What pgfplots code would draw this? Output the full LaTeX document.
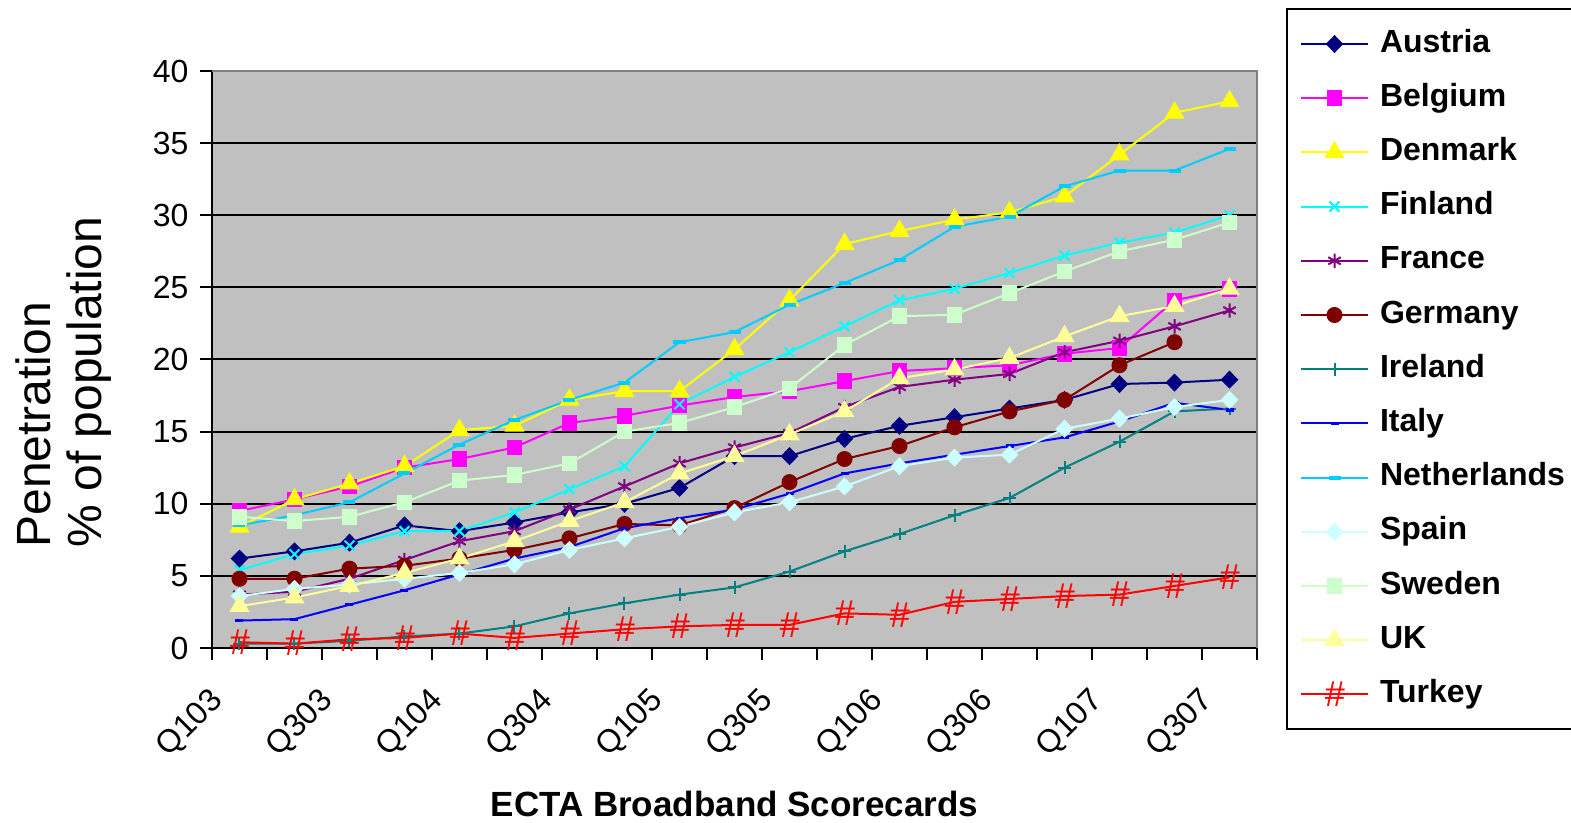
\documentclass[border=0pt]{standalone}
\usepackage{pgfplots}
\pgfplotsset{compat=1.18}
\usepackage{pgfplotstable}
\usepackage{fontspec}
\setmainfont{Liberation Sans}

\definecolor{bgsilver}{HTML}{C0C0C0}
\definecolor{cAustria}{HTML}{000080}
\definecolor{cBelgium}{HTML}{FF00FF}
\definecolor{cDenmark}{HTML}{FFFF00}
\definecolor{cFinland}{HTML}{00FFFF}
\definecolor{cFrance}{HTML}{800080}
\definecolor{cGermany}{HTML}{800000}
\definecolor{cIreland}{HTML}{008080}
\definecolor{cItaly}{HTML}{0000FF}
\definecolor{cNetherlands}{HTML}{00CCFF}
\definecolor{cSpain}{HTML}{CCFFFF}
\definecolor{cSweden}{HTML}{CCFFCC}
\definecolor{cUK}{HTML}{FFFF99}
\definecolor{cTurkey}{HTML}{FF0000}

% Broadband penetration (% of population), quarters Q1 2003 .. Q3 2007
\pgfplotstableread{
q  Austria Belgium Denmark Finland France Germany Ireland Italy Netherlands Spain Sweden UK   Turkey
0  6.2     9.5     8.4     5.4     3.7    4.8     0.3     1.9   8.5         3.6   9.1    2.9  0.4
1  6.7     10.3    10.3    6.5     3.9    4.8     0.3     2.0   9.2         4.1   8.8    3.5  0.3
2  7.3     11.2    11.4    7.1     4.8    5.5     0.5     3.0   10.1        4.4   9.1    4.3  0.6
3  8.5     12.5    12.6    8.1     6.1    5.7     0.8     4.0   12.1        4.8   10.1   5.2  0.7
4  8.1     13.1    15.1    8.1     7.4    6.2     1.0     5.1   14.1        5.2   11.6   6.2  1.0
5  8.7     13.9    15.4    9.4     8.1    6.8     1.5     6.2   15.8        5.8   12.0   7.4  0.7
6  9.4     15.6    17.2    11.0    9.6    7.6     2.4     7.0   17.2        6.8   12.8   8.8  1.0
7  10.0    16.1    17.8    12.6    11.2   8.6     3.1     8.3   18.4        7.6   15.0   10.1 1.3
8  11.1    16.8    17.8    16.9    12.8   8.5     3.7     9.0   21.2        8.4   15.6   12.1 1.5
9  13.3    17.4    20.7    18.8    13.9   9.7     4.2     9.6   21.9        9.4   16.7   13.3 1.6
10 13.3    17.8    24.1    20.5    14.9   11.5    5.3     10.7  23.8        10.1  18.0   14.8 1.6
11 14.5    18.5    28.0    22.3    16.7   13.1    6.7     12.1  25.3        11.2  21.0   16.4 2.4
12 15.4    19.2    28.9    24.1    18.1   14.0    7.9     12.8  26.9        12.6  23.0   18.7 2.3
13 16.0    19.4    29.7    24.9    18.6   15.3    9.2     13.4  29.2        13.2  23.1   19.3 3.2
14 16.6    19.6    30.2    26.0    19.0   16.4    10.4    14.0  29.9        13.4  24.6   20.1 3.4
15 17.2    20.4    31.3    27.2    20.5   17.2    12.5    14.6  32.0        15.2  26.1   21.6 3.6
16 18.3    20.8    34.2    28.1    21.3   19.6    14.3    15.7  33.1        15.9  27.5   23.0 3.7
17 18.4    24.1    37.1    28.8    22.3   21.2    16.4    17.0  33.1        16.7  28.3   23.7 4.3
18 18.6    24.9    37.9    30.0    23.4   nan     16.6    16.5  34.6        17.2  29.5   24.9 4.9
}\bbdata

\begin{document}
\begin{tikzpicture}
\path[use as bounding box] (-106pt,-87.5pt) rectangle (679.5pt,324pt);
\begin{axis}[
  at={(0pt,0pt)}, anchor=south west,
  scale only axis, width=522.5pt, height=288.5pt,
  xmin=-0.5, xmax=18.5, ymin=0, ymax=40,
  clip=false,
  axis background/.style={fill=bgsilver},
  axis x line*=bottom, axis y line*=left,
  axis line style={-, black, line width=1pt},
  % labelled ticks carry no mark; the marks are drawn as minor ticks
  xtick={0,2,...,18},
  xticklabels={Q103,Q303,Q104,Q304,Q105,Q305,Q106,Q306,Q107,Q307},
  minor xtick={-0.5,0.5,...,18.5},
  ytick={0,5,...,40},
  minor ytick={0,5,...,40},
  ymajorgrids, grid style={black, line width=1pt},
  tick align=outside, major tick length=0pt, minor tick length=6pt,
  tick style={black, line width=1pt},
  /pgf/number format/assume math mode=true,
  tick label style={font=\fontsize{16}{19}\selectfont},
  xticklabel style={xshift=-10.5pt, yshift=-24pt, rotate=45, anchor=east, inner sep=0pt},
  yticklabel style={xshift=-8.2pt},
  ylabel={Penetration\\\% of population},
  ylabel style={at={(axis description cs:-0.0957,0.1733)}, anchor=south west,
    align=left, inner sep=0pt, font=\fontsize{24}{25.5}\selectfont},
  xlabel={ECTA Broadband Scorecards},
  xlabel style={at={(axis description cs:0.5,-0.2929)}, anchor=base,
    inner sep=0pt, font=\bfseries\fontsize{17.5}{20}\selectfont},
  legend cell align=left,
  legend style={at={(axis description cs:1.02775,1.10919)}, anchor=north west,
    draw=black, line width=1pt, inner xsep=6.5pt, inner ysep=9.5pt,
    row sep=11.1pt,
    nodes={inner sep=0pt, text height=12pt, text depth=4pt},
    font=\bfseries\fontsize{16}{19}\selectfont},
  /tikz/every odd column/.append style={column sep=5.5pt},
  legend image code/.code={
    \draw[mark repeat=2, mark phase=2] plot coordinates {(0pt,0pt) (16.75pt,0pt) (33.5pt,0pt)};},
  every axis plot/.append style={line width=1pt},
]
\addplot[color=cAustria, mark=diamond*, mark size=3.8pt, mark options={solid, xscale=1.3}] table[x=q, y=Austria]{\bbdata};
\addlegendentry{Austria}
\addplot[color=cBelgium, mark=square*, mark size=3.4pt, mark options={solid}] table[x=q, y=Belgium]{\bbdata};
\addlegendentry{Belgium}
\addplot[color=cDenmark, mark=triangle*, mark size=4.8pt, mark options={solid}] table[x=q, y=Denmark]{\bbdata};
\addlegendentry{Denmark}
\addplot[color=cFinland, mark=x, mark size=3.5pt, mark options={solid}] table[x=q, y=Finland]{\bbdata};
\addlegendentry{Finland}
\addplot[color=cFrance, mark=asterisk, mark size=3.6pt, mark options={solid}] table[x=q, y=France]{\bbdata};
\addlegendentry{France}
\addplot[color=cGermany, mark=*, mark size=3.5pt, mark options={solid}] table[x=q, y=Germany]{\bbdata};
\addlegendentry{Germany}
\addplot[color=cIreland, mark=+, mark size=3.2pt, mark options={solid}] table[x=q, y=Ireland]{\bbdata};
\addlegendentry{Ireland}
\addplot[color=cItaly, mark=-, mark size=2pt, mark options={solid, line width=1.6pt}] table[x=q, y=Italy]{\bbdata};
\addlegendentry{Italy}
\addplot[color=cNetherlands, mark=-, mark size=3pt, mark options={solid, line width=2pt}] table[x=q, y=Netherlands]{\bbdata};
\addlegendentry{Netherlands}
\addplot[color=cSpain, mark=diamond*, mark size=3.8pt, mark options={solid, xscale=1.3}] table[x=q, y=Spain]{\bbdata};
\addlegendentry{Spain}
\addplot[color=cSweden, mark=square*, mark size=3.4pt, mark options={solid}] table[x=q, y=Sweden]{\bbdata};
\addlegendentry{Sweden}
\addplot[color=cUK, mark=triangle*, mark size=4.8pt, mark options={solid}] table[x=q, y=UK]{\bbdata};
\addlegendentry{UK}
\addplot[color=cTurkey, mark=text,
  text mark={\color{cTurkey}\fontsize{18}{18}\selectfont\itshape\#}] table[x=q, y=Turkey]{\bbdata};
\addlegendentry{Turkey}
% plot-area frame on the top and right sides
\draw[gray, line width=1pt] (rel axis cs:0,1) -- (rel axis cs:1,1) -- (rel axis cs:1,0);
\end{axis}
\end{tikzpicture}
\end{document}
